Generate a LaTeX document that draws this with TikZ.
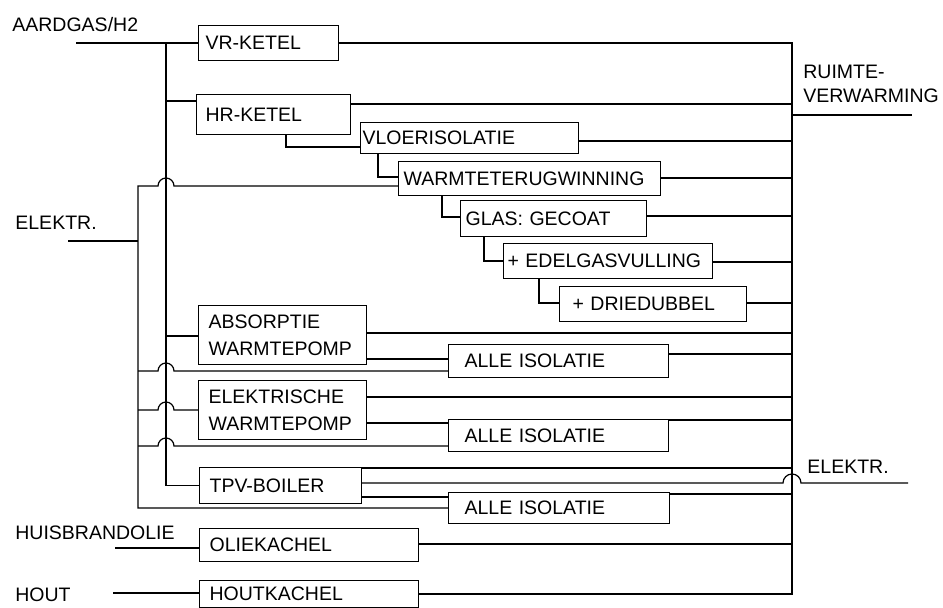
\documentclass[tikz,border=0pt]{standalone}
\usepackage{fontspec}
\setmainfont{Liberation Sans}
\usepackage{tikz}
\usetikzlibrary{calc}
\newcommand\diafont{\fontsize{9.75}{13.5}\selectfont}
\tikzset{
  unit/.style={draw=black,line width=0.6pt,anchor=north west,inner ysep=0pt,align=left,font=\diafont},
  lbl/.style={anchor=west,inner sep=0pt,font=\diafont},
  wire/.style={draw=black,line width=0.6pt}
}

\begin{document}
\begin{tikzpicture}[x=0.5pt,y=-0.5pt]
\useasboundingbox[fill=white] (0,0) rectangle (943,608);
% bus lines
\coordinate (gasbus) at (166,0);
\coordinate (elbus) at (138,0);
\coordinate (rbus) at (792,0);
\coordinate (gasin) at (76,42);
\coordinate (elin) at (68,241);
\coordinate (oilin) at (115,548);
\coordinate (woodin) at (113,593);
\coordinate (ruimteout) at (912,115);
\coordinate (elout) at (908,483);
% sources and uses
\node[lbl] (gaslbl) at (12,25) {AARDGAS/H2};
\node[lbl] (ellbl) at (15,223) {ELEKTR.};
\node[lbl] (oillbl) at (15,533) {HUISBRANDOLIE};
\node[lbl] (woodlbl) at (15,595) {HOUT};
\node[lbl,font=\fontsize{9.75}{12}\selectfont,align=left] (ruimte) at (803,84) {RUIMTE-\\VERWARMING};
\node[lbl] (ellbl2) at (807,467) {ELEKTR.};
% boxes
\node[unit,inner xsep=3.5pt,text width=63pt,minimum height=17.5pt] (vr) at (198,25) {VR-KETEL};
\node[unit,inner xsep=4.5pt,text width=68pt,minimum height=20pt] (hr) at (196,94) {HR-KETEL};
\node[unit,inner xsep=1pt,text width=107pt,minimum height=15.5pt] (vloer) at (360,122) {VLOERISOLATIE};
\node[unit,inner xsep=2.5pt,text width=126pt,minimum height=17pt] (wtw) at (398,161) {WARMTETERUGWINNING};
\node[unit,inner xsep=2.5pt,text width=88pt,minimum height=18pt] (glas) at (460,200) {GLAS: GECOAT};
\node[unit,inner xsep=2pt,text width=100.5pt,minimum height=17.5pt] (edel) at (503,243) {+ EDELGASVULLING};
\node[unit,inner xsep=6.5pt,text width=80.5pt,minimum height=17.5pt] (drie) at (559,286) {+ DRIEDUBBEL};
\node[unit,inner xsep=5pt,text width=74pt,minimum height=29.5pt] (absp) at (198,305) {ABSORPTIE\\WARMTEPOMP};
\node[unit,inner xsep=8pt,text width=94pt,minimum height=16.5pt] (iso1) at (448,344) {ALLE ISOLATIE};
\node[unit,inner xsep=5pt,text width=74pt,minimum height=29.5pt] (ewp) at (198,380) {ELEKTRISCHE\\WARMTEPOMP};
\node[unit,inner xsep=8pt,text width=94pt,minimum height=16pt] (iso2) at (448,419) {ALLE ISOLATIE};
\node[unit,inner xsep=5pt,text width=71pt,minimum height=18pt] (tpv) at (199,467) {TPV-BOILER};
\node[unit,inner xsep=8pt,text width=94.5pt,minimum height=15.5pt] (iso3) at (448,492) {ALLE ISOLATIE};
\node[unit,inner xsep=5pt,text width=99.5pt,minimum height=16.5pt] (olie) at (199,528) {OLIEKACHEL};
\node[unit,inner xsep=5pt,text width=99.5pt,minimum height=13.5pt] (hout) at (199,580) {HOUTKACHEL};
% gas
\draw[wire] (gasin |- vr.west) -- (vr.west);
\draw[wire] (gasbus |- vr.west) -- (gasbus |- tpv.west) -- (tpv.west);
\draw[wire] (gasbus |- 0,101) -- (hr.west |- 0,101);
\draw[wire] (gasbus |- 0,336) -- (absp.west |- 0,336);
% collecting bus
\draw[wire] (vr.east) -- (rbus |- vr.east) -- (rbus |- hout.east) -- (hout.east);
\draw[wire] (rbus |- ruimteout) -- (ruimteout);
\foreach \src/\yy in {hr/104,vloer/141,wtw/178,glas/216,edel/262,drie/303,absp/333,iso1/354,ewp/397,iso2/420,tpv/468,iso3/494,olie/544}
  \draw[wire] (\src.east |- 0,\yy) -- (rbus |- 0,\yy);
% saving steps
\draw[wire] ($(hr.south west)+(90,0)$) |- (vloer.west |- 0,147);
\draw[wire] ($(vloer.south west)+(18,0)$) |- (wtw.west |- 0,177);
\draw[wire] ($(wtw.south west)+(44,0)$) |- (glas.west |- 0,217);
\draw[wire] ($(glas.south west)+(24,0)$) |- (edel.west |- 0,261);
\draw[wire] ($(edel.south west)+(36,0)$) |- (drie.west |- 0,303);
\draw[wire] (absp.east |- 0,359) -- (iso1.west |- 0,359);
\draw[wire] (ewp.east |- 0,423) -- (iso2.west |- 0,423);
\draw[wire] (tpv.east |- 0,497) -- (iso3.west |- 0,497);
% electricity
\draw[wire] (elin) -- (elbus |- elin);
\draw[wire] (wtw.west |- 0,186) -- ($(gasbus |- 0,186)+(4pt,0)$) arc[start angle=0,end angle=180,radius=4pt]
  -- (elbus |- 0,186) -- (elbus |- 0,508) -- (iso3.west |- 0,508);
\foreach \yy/\dest in {371/iso1,410/ewp,446/iso2}
  \draw[wire] (\dest.west |- 0,\yy) -- ($(gasbus |- 0,\yy)+(4pt,0)$) arc[start angle=0,end angle=180,radius=4pt] -- (elbus |- 0,\yy);
\draw[wire] (tpv.east |- elout) -- ($(rbus |- elout)+(-4.5pt,0)$) arc[start angle=180,end angle=0,radius=4.5pt] -- (elout);
% oil and wood
\draw[wire] (oilin) -- (olie.west |- oilin);
\draw[wire] (woodin) -- (hout.west |- woodin);
\end{tikzpicture}
\end{document}
